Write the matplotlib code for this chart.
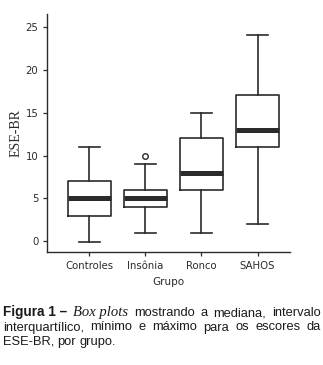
import matplotlib
matplotlib.use("Agg")
import matplotlib.pyplot as plt

# box plot statistics
groups = ["Controles", "Insônia", "Ronco", "SAHOS"]
mins = [-0.1, 1, 1, 2]
q1s = [3, 4, 6, 11]
medians = [5, 5, 8, 13]
q3s = [7, 6, 12, 17]
maxs = [11, 9, 15, 24]
outliers = [[], [10], [], []]

yticks = [0, 5, 10, 15, 20, 25]

DARK = "#2b2b2b"

fig = plt.figure(figsize=(3.23, 3.65), dpi=100)
ax = fig.add_axes([0.1465, 0.3096, 0.7515, 0.652])

stats = []
for i, g in enumerate(groups):
    stats.append(dict(label=g, whislo=mins[i], q1=q1s[i], med=medians[i],
                      q3=q3s[i], whishi=maxs[i], fliers=outliers[i]))

ax.bxp(stats, positions=range(len(groups)), widths=0.77, showfliers=True,
       boxprops=dict(color=DARK, linewidth=1.2),
       whiskerprops=dict(color=DARK, linewidth=1.2),
       capprops=dict(color=DARK, linewidth=1.2),
       medianprops=dict(color=DARK, linewidth=3.6, solid_capstyle="butt"),
       flierprops=dict(marker="o", markersize=4, markerfacecolor="white",
                       markeredgecolor=DARK, markeredgewidth=1.0))

ax.set_xlim(-0.75, 3.58)
ax.set_ylim(-1.25, 26.5)
ax.set_yticks(yticks)
ax.set_xticks(range(len(groups)))
ax.set_xticklabels(groups)
ax.spines["top"].set_visible(False)
ax.spines["right"].set_visible(False)
for s in ("left", "bottom"):
    ax.spines[s].set_color(DARK)
    ax.spines[s].set_linewidth(1.0)
ax.tick_params(axis="both", colors=DARK, labelsize=7.3, length=3, width=0.9,
               labelcolor=DARK)
ax.set_ylabel("ESE-BR", family="Liberation Serif", fontsize=10, color=DARK,
              labelpad=2)
ax.set_xlabel("Grupo", fontsize=7.5, color=DARK, labelpad=4)

# caption, justified word by word
fig.canvas.draw()
renderer = fig.canvas.get_renderer()
left_px, right_px = 3, 321
sans = "Liberation Sans"

def place_line(words, y_px, justify=True):
    # words: list of (text, kwargs)
    widths = []
    for txt, kw in words:
        t = fig.text(0, 0, txt, **kw)
        widths.append(t.get_window_extent(renderer).width)
        t.remove()
    if justify and len(words) > 1:
        gap = (right_px - left_px - sum(widths)) / (len(words) - 1)
    else:
        gap = 3.2
    x = left_px
    for (txt, kw), w in zip(words, widths):
        fig.text(x / 323, 1 - y_px / 365, txt, va="baseline",
                 color="#1a1a1a", **kw)
        x += w + gap

norm = dict(family=sans, fontsize=9.3)
bold = dict(family=sans, weight="bold", fontsize=9.8)
ital = dict(family="Liberation Serif", style="italic", fontsize=10.5)

line1 = [("Figura 1 –", bold), ("Box plots", ital)] + [(w, norm) for w in
         "mostrando a mediana, intervalo".split()]
line2 = [(w, norm) for w in
         "interquartílico, mínimo e máximo para os escores da".split()]
line3 = [(w, norm) for w in "ESE-BR, por grupo.".split()]

place_line(line1, 316)
place_line(line2, 330.5)
place_line(line3, 345, justify=False)

fig.savefig("out.png", dpi=100)
